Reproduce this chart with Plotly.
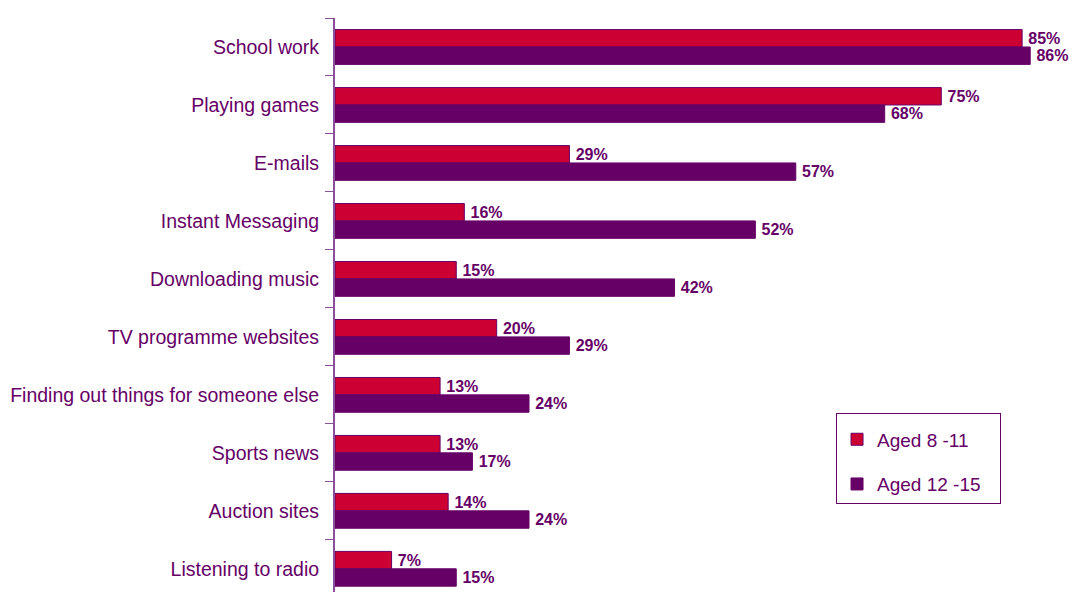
import plotly.graph_objects as go

categories = ["School work", "Playing games", "E-mails", "Instant Messaging",
              "Downloading music", "TV programme websites",
              "Finding out things for someone else", "Sports news",
              "Auction sites", "Listening to radio"]
aged_8_11 = [85, 75, 29, 16, 15, 20, 13, 13, 14, 7]
aged_12_15 = [86, 68, 57, 52, 42, 29, 24, 17, 24, 15]
series_names = ["Aged 8 -11", "Aged 12 -15"]

RED = "#CC0033"
PURPLE = "#660066"
FONT = "Liberation Sans, Arial, sans-serif"

fig = go.Figure()
for name, vals, col, grp in [(series_names[0], aged_8_11, RED, "a"),
                             (series_names[1], aged_12_15, PURPLE, "b")]:
    fig.add_trace(go.Bar(
        y=categories, x=vals, orientation="h",
        name=name + "\u00a0\u00a0\u2009",
        legendgroup=grp,
        marker=dict(color=col, line=dict(color=PURPLE, width=1)),
        text=[f"\u2009{v}%" for v in vals], textposition="outside",
        textfont=dict(family=FONT, size=16, color=PURPLE, weight="bold"),
        constraintext="none", cliponaxis=False,
    ))

fig.update_layout(
    width=1069, height=592,
    margin=dict(l=335, r=0, t=18, b=0),
    paper_bgcolor="white", plot_bgcolor="white",
    barmode="group", bargap=0.4, bargroupgap=0,
    font=dict(family=FONT, color=PURPLE),
    showlegend=True,
    legend=dict(
        x=0.6826, y=0.312, xanchor="left", yanchor="top",
        bordercolor=PURPLE, borderwidth=1, bgcolor="white",
        font=dict(family=FONT, size=19, color=PURPLE),
        title=dict(text=" ", font=dict(size=5)),
        traceorder="grouped", tracegroupgap=17,
        itemwidth=30,
    ),
    xaxis=dict(range=[0, 90.8], showgrid=False, zeroline=False,
               showticklabels=False, showline=False, ticks=""),
    yaxis=dict(range=[9.4, -0.5], showgrid=False, zeroline=False,
               showline=True, linecolor="#8B4E9B", linewidth=2,
               ticks="outside", tickson="boundaries", ticklen=8,
               tickcolor="#8B4E9B", tickwidth=1,
               tickfont=dict(family=FONT, size=19.5, color=PURPLE),
               ticklabelstandoff=10),
)

fig.write_html("out.html",
               config={"displayModeBar": False},
               post_script="document.body.style.margin='0';document.body.style.overflow='hidden';")
